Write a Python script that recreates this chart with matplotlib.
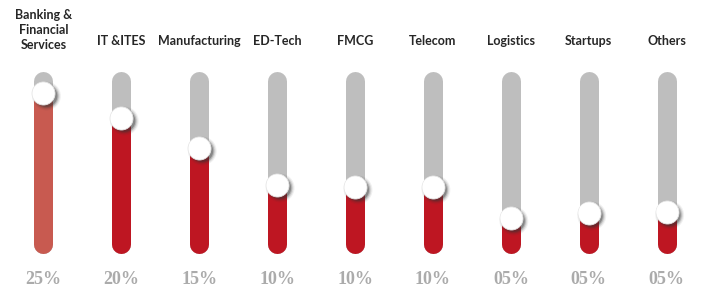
import matplotlib
matplotlib.use("Agg")
import matplotlib.pyplot as plt
import numpy as np

categories = ["Banking &\nFinancial\nServices", "IT &ITES", "Manufacturing", "ED-Tech",
              "FMCG", "Telecom", "Logistics", "Startups", "Others"]
pct_labels = ["25%", "20%", "15%", "10%", "10%", "10%", "05%", "05%", "05%"]
# slider fill level as a fraction of the track (read from the knob position)
fill_levels = [0.879, 0.742, 0.577, 0.374, 0.363, 0.363, 0.192, 0.220, 0.225]

W, H, DPI = 7.01, 2.90, 100
fig = plt.figure(figsize=(W, H), dpi=DPI)
ax = fig.add_axes([0, 0, 1, 1])
ax.set_xlim(-0.558, 8.44)
ax.set_ylim(-0.203, 1.390)
ax.axis("off")

px_per_y = 182.0          # pixels per unit of y
track_px = 19.0
lw = track_px * 72 / DPI
r = (track_px / 2) / px_per_y

track_color = "#BEBEBE"
fill_colors = ["#C85A50"] + ["#BE1622"] * 8
x = np.arange(len(categories))

for i, (lvl, fc) in enumerate(zip(fill_levels, fill_colors)):
    ax.plot([x[i], x[i]], [r, 1 - r], color=track_color, lw=lw,
            solid_capstyle="round", zorder=1)
    ax.plot([x[i], x[i]], [r, lvl], color=fc, lw=lw,
            solid_capstyle="round", zorder=2)

# knob shadow
dx = 3.0 / 77.9
dy = -3.0 / px_per_y
knob_d = 23 * 72 / DPI
for k, (s_scale, a) in enumerate([(1.25, 0.07), (1.15, 0.12), (1.05, 0.22), (0.95, 0.35)]):
    ax.scatter(x + dx, np.array(fill_levels) + dy, s=(knob_d * s_scale) ** 2,
               color="#333333", alpha=a, edgecolors="none", zorder=3)
# knob
ax.scatter(x, fill_levels, s=knob_d ** 2, color="#FFFFFF", edgecolors="#E6E6E6",
           linewidths=0.6, zorder=4)
ax.scatter(x - 1.0 / 77.9, np.array(fill_levels) + 1.0 / px_per_y, s=(knob_d * 0.8) ** 2,
           color="#FFFFFF", edgecolors="none", zorder=5)

# category labels
for i, c in enumerate(categories):
    if "\n" in c:
        ax.text(x[i], (253 - 30) / px_per_y, c, ha="center", va="center",
                fontsize=9, fontweight="bold", family="Lato", color="#262626",
                linespacing=1.3)
    else:
        ax.text(x[i], (253 - 41) / px_per_y, c, ha="center", va="center",
                fontsize=9, fontweight="bold", family="Lato", color="#262626")

# percent labels
for i, p in enumerate(pct_labels):
    ax.text(x[i], (253 - 279) / px_per_y, p, ha="center", va="center",
            fontsize=13, family="Liberation Serif", fontweight="bold", color="#ABABAB")

fig.savefig("out.png", dpi=DPI, facecolor="white")
